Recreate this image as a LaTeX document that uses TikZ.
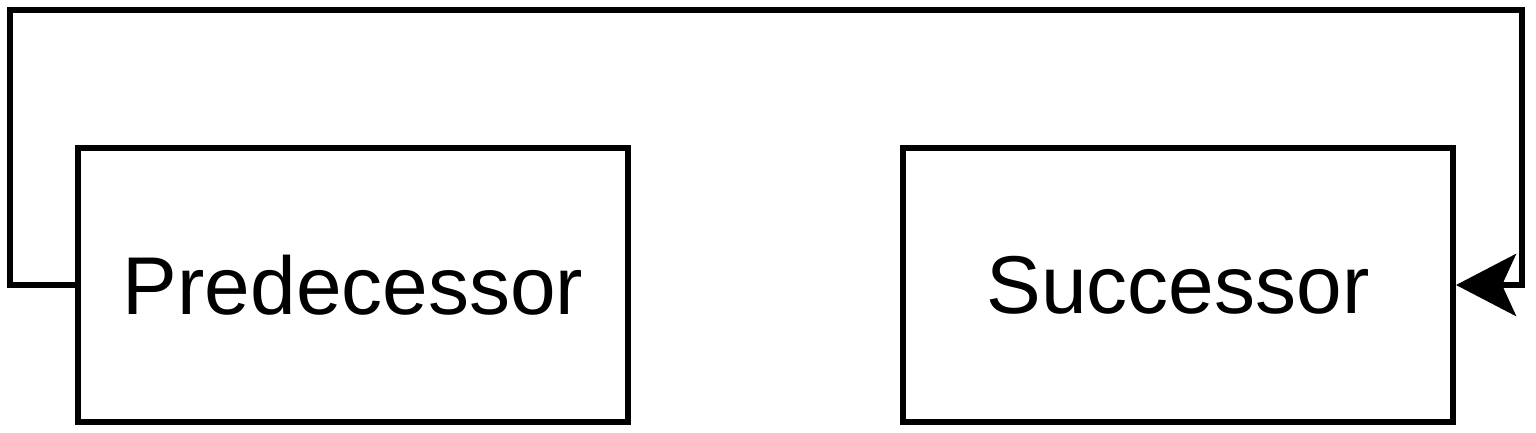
\documentclass[tikz,border=0pt]{standalone}
\usepackage{fontspec}
\setmainfont{Liberation Sans}
\usetikzlibrary{arrows.meta}
\begin{document}
\begin{tikzpicture}[x=0.5pt,y=-0.5pt,
  box/.style={draw=black,line width=3pt,minimum width=275pt,minimum height=137pt,inner sep=0pt,font=\fontsize{41}{48}\selectfont},
  conn/.style={draw=black,line width=3pt},
  tip/.style={-{Stealth[length=30pt,width=31pt,inset=7pt]}}]
\useasboundingbox (0,0) rectangle (1536,433);
\node[box] (pred) at (353,285) {Predecessor};
\node[box] (succ) at (1178,285) {Successor};
\coordinate (tl) at (10,10);
\coordinate (tr) at (1522,10);
\draw[conn,tip,line join=miter] (pred.west) -| (tl) -- (tr) |- (succ.east);
\end{tikzpicture}
\end{document}
